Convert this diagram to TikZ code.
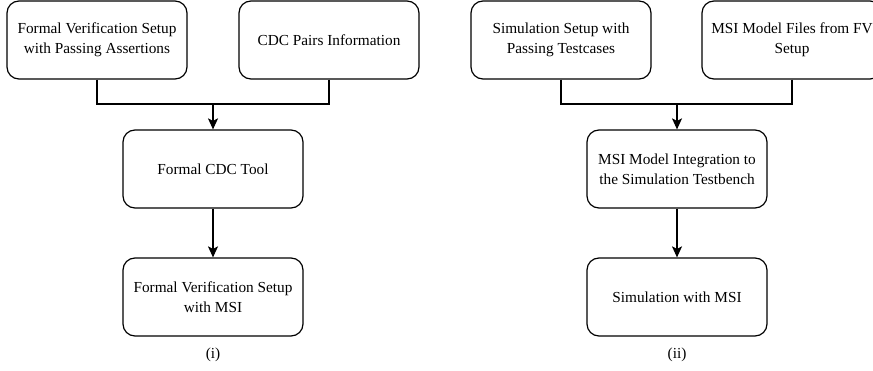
\documentclass[tikz,border=0pt]{standalone}
\usepackage{fontspec}
\setmainfont{Liberation Serif}
\usetikzlibrary{arrows.meta,shapes}
\tikzstyle{block} = [draw, line width=1.2pt, rounded corners=12pt, minimum width=180pt, minimum height=78pt, align=center, inner sep=2pt, font=\fontsize{15.3}{20}\selectfont]
\tikzstyle{line} = [draw, line width=1.2pt]
\tikzstyle{edge} = [line, -{Stealth[length=11pt,width=10pt,inset=2.5pt]}]
\tikzstyle{caption} = [font=\fontsize{15.3}{20}\selectfont]

\begin{document}
\begin{tikzpicture}[x=1pt, y=1pt]
    \clip (0,0) rectangle (873,370);
    % Draw the blocks of (i).
    \node [block] (fvsetup) at ( 97, 330) {Formal Verification Setup\\with Passing Assertions};
    \node [block] (cdcpairs) at (329, 330) {CDC Pairs Information};
    \node [block] (cdctool) at (213, 201) {Formal CDC Tool};
    \node [block] (fvmsi) at (213, 73) {Formal Verification Setup\\with MSI};
    \node [caption] (capi) at (213, 15) {(i)};
    % Draw the blocks of (ii).
    \node [block] (simsetup) at (561, 330) {Simulation Setup with\\Passing Testcases};
    \node [block] (msifiles) at (792, 330) {MSI Model Files from FV\\Setup};
    \node [block] (msiint) at (677, 201) {MSI Model Integration to\\the Simulation Testbench};
    \node [block] (simmsi) at (677, 73) {Simulation with MSI};
    \node [caption] (capii) at (677, 15) {(ii)};
    % Inputs -> Formal CDC Tool -> Formal Verification Setup.
    \coordinate (ji) at (213, 266);
    \path [line] (fvsetup) |- (ji);
    \path [line] (cdcpairs) |- (ji);
    \path [edge] (ji) -- (cdctool);
    \path [edge] (cdctool) -- (fvmsi);
    % Inputs -> MSI Model Integration -> Simulation.
    \coordinate (jii) at (677, 266);
    \path [line] (simsetup) |- (jii);
    \path [line] (msifiles) |- (jii);
    \path [edge] (jii) -- (msiint);
    \path [edge] (msiint) -- (simmsi);
\end{tikzpicture}
\end{document}
